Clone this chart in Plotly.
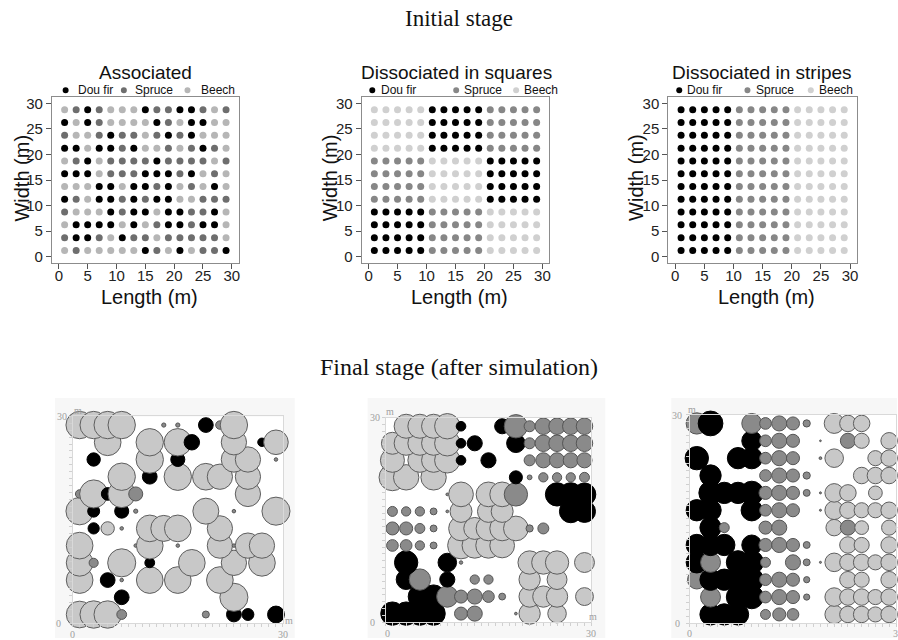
import plotly.graph_objects as go

W, H = 898, 640

# ---------------------------------------------------------------- data
species_names = {"D": "Dou fir", "S": "Spruce", "B": "Beech"}

# planting grid (m)
grid_x = [1, 3, 5, 7, 9, 11, 13, 15, 17, 19, 21, 23, 25, 27, 29]
grid_y_top_down = [28.75, 26.25, 23.75, 21.25, 18.75, 16.25, 13.75, 11.25, 8.75, 6.25, 3.75, 1.25]
axis_ticks = [0, 5, 10, 15, 20, 25, 30]

# initial stage, one string per planting row (top row first)
associated_rows = [
    "BSDSBBBDSSDDSBS",
    "DBDSBBBBDSBDDBB",
    "SBBSDSSBSDSDBBB",
    "DDBDDSDBBSBSDSB",
    "BSDBSSSSDSSSSBS",
    "DDDBSSSDDDSDBSB",
    "BBBDDBDDSDBSBDB",
    "DSBDDSDSDDBBSSS",
    "SBBBDSDDBDDSSDB",
    "BDDDDBDBSDDSDDB",
    "SDDSBDSSBSSSSSB",
    "BSBBBBBDSBDBSSD",
]
squares_rows = [
    "BBBBBDDDDDSSSSS",
    "BBBBBDDDDDSSSSS",
    "BBBBBDDDDDSSSSS",
    "BBBBBDDDDDSSSSS",
    "SSSSSBBBBBDDDDD",
    "SSSSSBBBBBDDDDD",
    "SSSSSBBBBBDDDDD",
    "SSSSSBBBBBDDDDD",
    "DDDDDSSSSSBBBBB",
    "DDDDDSSSSSBBBBB",
    "DDDDDSSSSSBBBBB",
    "DDDDDSSSSSBBBBB",
]
stripes_rows = ["DDDDDSSSSSBBBBB"] * 12

# final stage: (x m, y m, species, crown diameter m)
final_associated = [
    (1, 28.75, "B", 3.9), (3, 28.75, "B", 3.9), (5, 28.75, "B", 3.9), (7, 28.75, "B", 3.9),
    (13, 28.75, "S", 0.6), (15, 28.75, "S", 0.6), (19, 28.75, "D", 2.1), (21, 28.75, "S", 1.2),
    (23, 28.75, "B", 3.9),
    (5, 26.25, "B", 3.8), (11, 26.25, "B", 3.9), (15, 26.25, "B", 3.9), (17, 26.25, "D", 2.2),
    (23, 26.25, "B", 3.6), (27, 26.25, "D", 1.2), (29, 26.25, "B", 3.5),
    (3, 23.75, "D", 1.9), (11, 23.75, "B", 3.9), (15, 23.75, "D", 2.0), (23, 23.75, "B", 3.6),
    (25, 23.75, "B", 3.6), (29, 23.75, "S", 0.5),
    (7, 21.25, "B", 3.9), (11, 21.25, "D", 2.1), (15, 21.25, "B", 3.9), (19, 21.25, "B", 3.8),
    (21, 21.25, "B", 3.6), (25, 21.25, "B", 3.6),
    (1, 18.75, "S", 1.2), (3, 18.75, "B", 4.0), (5, 18.75, "D", 1.8), (7, 18.75, "B", 3.9),
    (9, 18.75, "S", 2.0), (25, 18.75, "B", 3.6),
    (1, 16.25, "B", 3.9), (3, 16.25, "D", 1.7), (7, 16.25, "D", 2.0), (9, 16.25, "S", 0.6),
    (19, 16.25, "B", 3.7), (23, 16.25, "S", 0.5), (29, 16.25, "B", 4.0),
    (3, 13.75, "D", 1.6), (5, 13.75, "B", 1.9), (7, 13.75, "S", 0.5), (11, 13.75, "B", 3.8),
    (13, 13.75, "B", 3.7), (15, 13.75, "B", 3.8), (21, 13.75, "B", 3.6),
    (1, 11.25, "B", 3.8), (9, 11.25, "S", 0.5), (11, 11.25, "B", 3.8), (15, 11.25, "S", 0.5),
    (21, 11.25, "B", 3.6), (23, 11.25, "S", 0.5), (25, 11.25, "B", 3.6), (27, 11.25, "B", 3.6),
    (1, 8.75, "B", 3.8), (3, 8.75, "S", 1.3), (7, 8.75, "B", 4.0), (11, 8.75, "D", 1.4),
    (17, 8.75, "B", 3.8), (23, 8.75, "B", 3.6), (27, 8.75, "B", 3.8),
    (1, 6.25, "B", 3.8), (5, 6.25, "D", 2.1), (7, 6.25, "S", 0.5), (11, 6.25, "B", 3.8),
    (15, 6.25, "B", 3.8), (21, 6.25, "B", 3.8),
    (7, 3.75, "D", 2.1), (23, 3.75, "B", 4.0),
    (1, 1.25, "B", 3.8), (3, 1.25, "B", 3.9), (5, 1.25, "B", 3.9), (7, 1.25, "S", 1.4),
    (19, 1.25, "S", 1.0), (23, 1.25, "D", 2.1), (25, 1.25, "D", 1.7), (29, 1.25, "D", 2.4),
]
final_squares = [
    (3, 28.75, "B", 3.5), (5, 28.75, "B", 3.5), (7, 28.75, "B", 3.5), (9, 28.75, "B", 3.7),
    (11, 28.75, "D", 1.4), (17, 28.75, "D", 2.2), (19, 28.75, "S", 3.4), (21, 28.75, "S", 1.6),
    (23, 28.75, "S", 2.4), (25, 28.75, "S", 2.4), (27, 28.75, "S", 2.4), (29, 28.75, "S", 2.4),
    (1, 26.25, "B", 3.2), (3, 26.25, "B", 3.5), (5, 26.25, "B", 3.5), (7, 26.25, "B", 3.5),
    (9, 26.25, "B", 3.7), (11, 26.25, "D", 1.4), (13, 26.25, "D", 2.2), (19, 26.25, "D", 2.7),
    (21, 26.25, "S", 1.6), (23, 26.25, "S", 2.4), (25, 26.25, "S", 2.4), (27, 26.25, "S", 2.4),
    (29, 26.25, "S", 2.4),
    (1, 23.75, "B", 3.5), (5, 23.75, "B", 3.5), (7, 23.75, "B", 3.5), (9, 23.75, "B", 3.7),
    (11, 23.75, "D", 1.4), (15, 23.75, "D", 2.2), (21, 23.75, "S", 1.6), (23, 23.75, "S", 2.2),
    (25, 23.75, "S", 2.2), (27, 23.75, "S", 2.2), (29, 23.75, "S", 2.2),
    (1, 21.25, "B", 3.9), (3, 21.25, "B", 3.7), (7, 21.25, "B", 3.7), (19, 21.25, "D", 1.9),
    (21, 21.25, "S", 0.7), (23, 21.25, "S", 1.35), (25, 21.25, "S", 1.35), (27, 21.25, "S", 1.35),
    (29, 21.25, "S", 1.45),
    (9, 18.75, "S", 0.4), (11, 18.75, "B", 3.6), (15, 18.75, "B", 3.6), (17, 18.75, "B", 3.6),
    (19, 18.75, "S", 3.4), (25, 18.75, "D", 3.4), (27, 18.75, "D", 3.4), (29, 18.75, "D", 3.3),
    (1, 16.25, "S", 1.45), (3, 16.25, "S", 1.35), (5, 16.25, "S", 1.35), (7, 16.25, "S", 1.0),
    (9, 16.25, "S", 0.4), (11, 16.25, "B", 3.2), (15, 16.25, "B", 3.2), (17, 16.25, "B", 3.2),
    (27, 16.25, "D", 3.3), (29, 16.25, "D", 3.2),
    (1, 13.75, "S", 1.9), (3, 13.75, "S", 1.9), (5, 13.75, "S", 1.45), (7, 13.75, "S", 1.0),
    (11, 13.75, "B", 3.6), (13, 13.75, "B", 3.2), (15, 13.75, "B", 3.6), (17, 13.75, "B", 3.6),
    (19, 13.75, "B", 3.6), (21, 13.75, "S", 1.05), (23, 13.75, "S", 1.6),
    (1, 11.25, "S", 1.7), (3, 11.25, "S", 1.7), (5, 11.25, "S", 1.35), (7, 11.25, "S", 1.0),
    (11, 11.25, "B", 3.9), (13, 11.25, "B", 3.7), (15, 11.25, "B", 3.7), (17, 11.25, "B", 3.6),
    (3, 8.75, "D", 3.4), (9, 8.75, "D", 2.7), (11, 8.75, "S", 0.5), (21, 8.75, "B", 3.4),
    (23, 8.75, "B", 3.4), (25, 8.75, "B", 3.4), (29, 8.75, "B", 2.9),
    (3, 6.25, "D", 2.9), (5, 6.25, "S", 3.1), (9, 6.25, "D", 2.2), (13, 6.25, "S", 1.35),
    (15, 6.25, "S", 1.35), (21, 6.25, "B", 3.1), (25, 6.25, "B", 2.9),
    (5, 3.75, "D", 3.4), (7, 3.75, "D", 3.4), (9, 3.75, "S", 3.1), (11, 3.75, "S", 1.9),
    (13, 3.75, "S", 2.2), (15, 3.75, "S", 1.7), (17, 3.75, "S", 1.0), (21, 3.75, "B", 3.1),
    (23, 3.75, "B", 3.1), (25, 3.75, "B", 3.1), (29, 3.75, "B", 2.6),
    (1, 1.25, "D", 3.4), (3, 1.25, "D", 3.4), (5, 1.25, "D", 3.4), (7, 1.25, "D", 3.4),
    (11, 1.25, "S", 1.9), (13, 1.25, "S", 2.2), (19, 1.25, "S", 0.4), (21, 1.25, "B", 3.1),
    (25, 1.25, "B", 2.7),
]
final_stripes = [
    (1, 28.75, "S", 3.1), (3, 28.75, "D", 3.6), (9, 28.75, "S", 2.9), (11, 28.75, "S", 1.7),
    (13, 28.75, "S", 2.2), (15, 28.75, "S", 1.9), (17, 28.75, "S", 1.05), (21, 28.75, "B", 2.9),
    (23, 28.75, "B", 2.4), (25, 28.75, "B", 2.4),
    (9, 26.25, "D", 2.9), (11, 26.25, "S", 1.7), (13, 26.25, "S", 2.2), (15, 26.25, "S", 1.9),
    (19, 26.25, "S", 0.25), (23, 26.25, "S", 2.2), (25, 26.25, "B", 2.2), (29, 26.25, "B", 2.4),
    (1, 23.75, "D", 3.4), (7, 23.75, "D", 3.1), (9, 23.75, "D", 3.1), (11, 23.75, "S", 1.7),
    (13, 23.75, "S", 2.2), (15, 23.75, "S", 1.9), (19, 23.75, "S", 0.4), (21, 23.75, "B", 2.7),
    (27, 23.75, "B", 2.2), (29, 23.75, "B", 2.4),
    (3, 21.25, "D", 3.1), (11, 21.25, "S", 1.7), (13, 21.25, "S", 2.2), (15, 21.25, "S", 1.9),
    (17, 21.25, "S", 1.05), (25, 21.25, "B", 2.4), (27, 21.25, "B", 2.4), (29, 21.25, "B", 2.4),
    (3, 18.75, "D", 3.4), (5, 18.75, "D", 3.1), (7, 18.75, "D", 3.1), (9, 18.75, "D", 3.4),
    (11, 18.75, "S", 1.9), (13, 18.75, "S", 2.2), (15, 18.75, "S", 1.9), (17, 18.75, "S", 1.0),
    (19, 18.75, "S", 0.3), (21, 18.75, "B", 2.7), (23, 18.75, "B", 2.4), (27, 18.75, "B", 2.0),
    (1, 16.25, "D", 3.1), (3, 16.25, "D", 3.1), (9, 16.25, "D", 3.1), (11, 16.25, "S", 1.7),
    (13, 16.25, "S", 2.2), (15, 16.25, "S", 1.9), (19, 16.25, "S", 0.3), (21, 16.25, "B", 2.7),
    (23, 16.25, "B", 2.4), (25, 16.25, "B", 2.2), (27, 16.25, "B", 2.2), (29, 16.25, "B", 2.4),
    (3, 13.75, "D", 3.1), (5, 13.75, "S", 1.45), (11, 13.75, "S", 1.9), (13, 13.75, "S", 2.2),
    (21, 13.75, "B", 2.4), (23, 13.75, "S", 2.2), (25, 13.75, "B", 2.0), (29, 13.75, "B", 2.2),
    (1, 11.25, "D", 3.1), (3, 11.25, "D", 3.1), (5, 11.25, "D", 3.1), (9, 11.25, "D", 2.9),
    (11, 11.25, "S", 1.9), (13, 11.25, "S", 2.2), (15, 11.25, "S", 1.9), (17, 11.25, "S", 1.0),
    (23, 11.25, "B", 2.4), (25, 11.25, "B", 2.2), (29, 11.25, "B", 2.4),
    (1, 8.75, "D", 3.1), (3, 8.75, "S", 2.9), (7, 8.75, "D", 3.4), (9, 8.75, "D", 3.4),
    (11, 8.75, "S", 1.45), (15, 8.75, "S", 2.2), (17, 8.75, "S", 1.0), (19, 8.75, "S", 0.3),
    (21, 8.75, "B", 2.7), (23, 8.75, "B", 2.4), (25, 8.75, "B", 2.4), (27, 8.75, "B", 2.2),
    (29, 8.75, "B", 2.4),
    (1, 6.25, "S", 2.7), (3, 6.25, "D", 3.1), (5, 6.25, "D", 3.1), (7, 6.25, "D", 3.4),
    (9, 6.25, "D", 3.4), (11, 6.25, "S", 1.7), (13, 6.25, "S", 2.2), (15, 6.25, "S", 1.9),
    (17, 6.25, "S", 0.9), (23, 6.25, "B", 2.4), (25, 6.25, "B", 2.2), (29, 6.25, "B", 2.4),
    (3, 3.75, "S", 2.9), (7, 3.75, "D", 3.4), (9, 3.75, "D", 3.4), (11, 3.75, "S", 1.7),
    (13, 3.75, "S", 2.2), (15, 3.75, "S", 1.9), (17, 3.75, "S", 0.9), (21, 3.75, "B", 2.7),
    (23, 3.75, "B", 2.4), (25, 3.75, "B", 2.4), (27, 3.75, "B", 2.2), (29, 3.75, "B", 2.4),
    (3, 1.25, "D", 3.1), (5, 1.25, "D", 3.1), (7, 1.25, "D", 3.1), (11, 1.25, "S", 1.45),
    (13, 1.25, "S", 1.9), (15, 1.25, "S", 1.7), (21, 1.25, "B", 2.7), (23, 1.25, "B", 2.4),
    (25, 1.25, "B", 2.4), (27, 1.25, "B", 2.2), (29, 1.25, "B", 2.4),
]

# ---------------------------------------------------------------- styles
SANS = "Liberation Sans, Arial, sans-serif"
SERIF = "Liberation Serif, Times New Roman, serif"

initial_palettes = [
    {"D": "#000000", "S": "#6e6e6e", "B": "#b6b6b6"},
    {"D": "#000000", "S": "#878787", "B": "#d0d0d0"},
    {"D": "#000000", "S": "#878787", "B": "#d0d0d0"},
]
final_fill = {"D": "#000000", "S": "#8a8a8a", "B": "#c8c8c8"}
final_edge = {"D": "#000000", "S": "#555555", "B": "#5e5e5e"}


def fx(px):
    return px / W


def fy(py):
    return 1 - py / H


fig = go.Figure()
annotations = []
shapes = []

# ---------------------------------------------------------------- initial stage panels
top_panels = [
    {"title": "Associated", "rows": associated_rows, "box": (52, 239), "title_x": 146,
     "legend": [(65.7, 76), (124, 132.7), (187.7, 199.3)], "ylab_x": 22},
    {"title": "Dissociated in squares", "rows": squares_rows, "box": (362, 550), "title_x": 457,
     "legend": [(372.7, 379), (456.7, 463), (516.7, 522.7)], "ylab_x": 330},
    {"title": "Dissociated in stripes", "rows": stripes_rows, "box": (669, 858), "title_x": 763,
     "legend": [(680, 686), (748.3, 755), (811.7, 818)], "ylab_x": 636},
]
top_y = (95, 262)

for i, p in enumerate(top_panels):
    n = i + 1
    sfx = "" if n == 1 else str(n)
    xa, ya = "x" + sfx, "y" + sfx
    pal = initial_palettes[i]
    xs, ys, cs = [], [], []
    for row, yv in zip(p["rows"], grid_y_top_down):
        for code, xv in zip(row, grid_x):
            xs.append(xv)
            ys.append(yv)
            cs.append(pal[code])
    fig.add_trace(go.Scatter(x=xs, y=ys, mode="markers", xaxis=xa, yaxis=ya,
                             marker=dict(size=7, color=cs, line=dict(width=0)),
                             showlegend=False, hoverinfo="skip"))
    x0, x1 = p["box"]
    common = dict(range=[-1.2, 31.2], tickvals=axis_ticks, ticks="outside", ticklen=5,
                  tickcolor="#555555", tickwidth=1, showline=True, mirror=True,
                  linecolor="#8c8c8c", linewidth=1, showgrid=False, zeroline=False,
                  tickfont=dict(family=SANS, size=15, color="#222222"), fixedrange=True)
    fig.layout["xaxis" + sfx] = dict(domain=[fx(x0), fx(x1)], anchor=ya,
                                     ticklabelstandoff=-6, **common)
    fig.layout["yaxis" + sfx] = dict(domain=[fy(top_y[1]), fy(top_y[0])], anchor=xa, **common)

    cx = (x0 + x1) / 2
    annotations.append(dict(text=p["title"], x=fx(p["title_x"]), y=fy(70.5), xref="paper", yref="paper",
                            showarrow=False, xanchor="center", yanchor="middle",
                            font=dict(family=SANS, size=19, color="#111111")))
    annotations.append(dict(text="Length (m)", x=fx(cx + 4), y=fy(296), xref="paper", yref="paper",
                            showarrow=False, xanchor="center", yanchor="middle",
                            font=dict(family=SANS, size=20, color="#111111")))
    annotations.append(dict(text="Width (m)", x=fx(p["ylab_x"]), y=fy(176), xref="paper", yref="paper",
                            showarrow=False, xanchor="center", yanchor="middle", textangle=-90,
                            font=dict(family=SANS, size=20, color="#111111")))
    # legend row: dot + label per species
    for (dot_x, text_x), code in zip(p["legend"], ["D", "S", "B"]):
        annotations.append(dict(text=species_names[code], x=fx(text_x), y=fy(88), xref="paper",
                                yref="paper", showarrow=False, xanchor="left", yanchor="middle",
                                font=dict(family=SANS, size=12, color="#111111")))
        shapes.append(dict(type="circle", xref="paper", yref="paper",
                           x0=fx(dot_x - 3), x1=fx(dot_x + 3), y0=fy(88 + 3), y1=fy(88 - 3),
                           fillcolor=pal[code], line=dict(width=0)))

# ---------------------------------------------------------------- final stage panels
bottom_panels = [
    {"trees": final_associated, "x": (72.7, 283.3), "y": (625, 416.7), "bg": (55, 295),
     "labels": [("30", 61.7, 416.7), ("0", 58.3, 625), ("m", 78, 411),
                ("0", 73, 636), ("30", 283.3, 636), ("m", 289, 622)]},
    {"trees": final_squares, "x": (386, 592), "y": (624, 418), "bg": (368, 606),
     "labels": [("30", 375, 418), ("0", 373, 624), ("m", 390, 412),
                ("0", 387.7, 635), ("30", 591.7, 635), ("m", 594, 618)]},
    {"trees": final_stripes, "x": (690.7, 897), "y": (625, 415), "bg": (672, 898),
     "labels": [("30", 678, 415.7), ("0", 678, 625), ("m", 693, 410),
                ("0", 690.7, 635), ("3", 896, 635)]},
]

for i, p in enumerate(bottom_panels):
    n = i + 4
    xa, ya = f"x{n}", f"y{n}"
    (x0, x1), (yb, yt) = p["x"], p["y"]
    px_per_m = (x1 - x0) / 30.0
    trees = sorted(p["trees"], key=lambda t: (t[1], t[0]))
    fig.add_trace(go.Scatter(
        x=[t[0] for t in trees], y=[t[1] for t in trees], mode="markers",
        xaxis=xa, yaxis=ya, cliponaxis=False, showlegend=False, hoverinfo="skip",
        marker=dict(size=[t[3] * px_per_m for t in trees],
                    color=[final_fill[t[2]] for t in trees],
                    line=dict(width=1, color=[final_edge[t[2]] for t in trees]),
                    opacity=1)))
    ax = dict(range=[0, 30], showline=True, mirror=True, linecolor="#d9d9d9", linewidth=1,
              ticks="outside", ticklen=3, tickcolor="#d0d0d0", dtick=1, tick0=0,
              showticklabels=False, showgrid=False, zeroline=False, fixedrange=True)
    fig.layout[f"xaxis{n}"] = dict(domain=[fx(x0), fx(x1)], anchor=ya, **ax)
    fig.layout[f"yaxis{n}"] = dict(domain=[fy(yb), fy(yt)], anchor=xa, **ax)
    # light window background with a white plotting area
    shapes.append(dict(type="rect", xref="paper", yref="paper", layer="below",
                       x0=fx(p["bg"][0]), x1=fx(p["bg"][1]), y0=fy(640), y1=fy(398),
                       fillcolor="#f7f7f7", line=dict(width=0)))
    shapes.append(dict(type="rect", xref="paper", yref="paper", layer="below",
                       x0=fx(x0), x1=fx(x1), y0=fy(yb), y1=fy(yt),
                       fillcolor="#ffffff", line=dict(width=0)))
    for txt, lx, ly in p["labels"]:
        annotations.append(dict(text=txt, x=fx(lx), y=fy(ly), xref="paper", yref="paper",
                                showarrow=False, xanchor="center", yanchor="middle",
                                font=dict(family=SERIF, size=10, color="#a0a0a0")))

# stage headings
annotations.append(dict(text="Initial stage", x=fx(460), y=fy(16), xref="paper", yref="paper",
                        showarrow=False, xanchor="center", yanchor="middle",
                        font=dict(family=SERIF, size=23, color="#111111")))
annotations.append(dict(text="Final stage (after simulation)", x=fx(460), y=fy(367), xref="paper",
                        yref="paper", showarrow=False, xanchor="center", yanchor="middle",
                        font=dict(family=SERIF, size=24, color="#111111")))

fig.update_layout(width=W, height=H, margin=dict(l=0, r=0, t=0, b=0),
                  paper_bgcolor="white", plot_bgcolor="white",
                  annotations=annotations, shapes=shapes, showlegend=False)

fig.write_html("out.html", config={"displayModeBar": False})
